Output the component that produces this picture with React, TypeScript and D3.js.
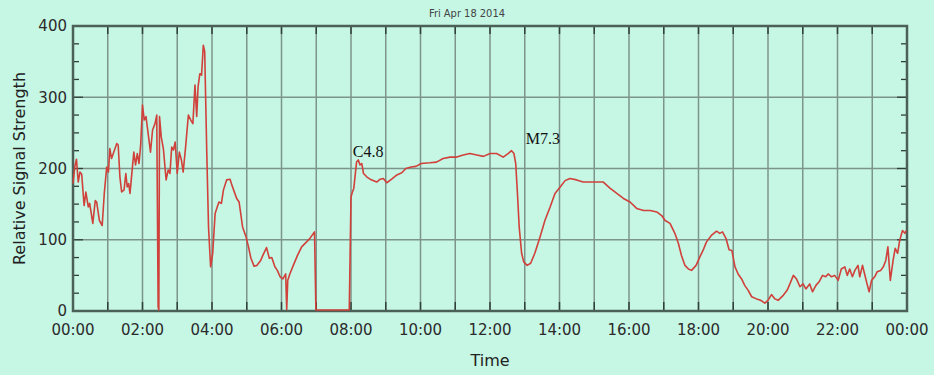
import React, { useEffect, useRef } from "react";
import * as d3 from "d3";

// hours since midnight, Fri Apr 18 2014
const hourOfDay = [
  0, 0.05, 0.1, 0.15, 0.2, 0.25, 0.32, 0.37, 0.44, 0.48, 0.57, 0.64, 0.68, 0.76, 0.84, 0.9,
  0.97, 1.02, 1.06, 1.11, 1.16, 1.26, 1.3, 1.35, 1.4, 1.47, 1.52, 1.56, 1.6, 1.64, 1.71,
  1.75, 1.8, 1.85, 1.9, 1.95, 2.0, 2.05, 2.1, 2.15, 2.23, 2.29, 2.36, 2.41, 2.45, 2.47,
  2.49, 2.54, 2.6, 2.68, 2.74, 2.79, 2.84, 2.89, 2.94, 3.0, 3.06, 3.12, 3.17, 3.24, 3.32,
  3.39, 3.45, 3.51, 3.56, 3.6, 3.65, 3.7, 3.75, 3.79, 3.85, 3.9, 3.96, 4.02, 4.09, 4.15,
  4.2, 4.27, 4.33, 4.42, 4.52, 4.57, 4.71, 4.78, 4.88, 4.98, 5.05, 5.12, 5.21, 5.29, 5.4,
  5.49, 5.57, 5.65, 5.72, 5.81, 5.88, 5.96, 6.04, 6.12, 6.15, 6.18, 6.24, 6.34, 6.46,
  6.58, 6.7, 6.82, 6.92, 6.95, 6.99, 7.95, 8.0, 8.04, 8.08, 8.16, 8.21, 8.26, 8.31, 8.36,
  8.46, 8.55, 8.6, 8.74, 8.84, 8.93, 9.03, 9.17, 9.32, 9.46, 9.58, 9.73, 9.87, 10.02,
  10.27, 10.46, 10.65, 10.85, 11.04, 11.23, 11.42, 11.62, 11.81, 12.0, 12.19, 12.38,
  12.52, 12.62, 12.69, 12.74, 12.79, 12.84, 12.91, 12.97, 13.07, 13.17, 13.29, 13.44,
  13.58, 13.73, 13.87, 14.02, 14.16, 14.3, 14.49, 14.68, 14.88, 15.07, 15.26, 15.46,
  15.65, 15.84, 16.03, 16.22, 16.42, 16.61, 16.8, 16.94, 17.04, 17.18, 17.32, 17.42,
  17.51, 17.61, 17.71, 17.8, 17.93, 18.04, 18.13, 18.23, 18.37, 18.52, 18.61, 18.69,
  18.79, 18.88, 18.96, 19.05, 19.14, 19.24, 19.33, 19.43, 19.53, 19.67, 19.79, 19.91,
  20.0, 20.1, 20.2, 20.29, 20.44, 20.55, 20.63, 20.73, 20.82, 20.92, 21.01, 21.09, 21.2,
  21.28, 21.38, 21.47, 21.57, 21.66, 21.73, 21.83, 21.92, 22.02, 22.11, 22.21, 22.28,
  22.35, 22.43, 22.5, 22.59, 22.64, 22.72, 22.78, 22.85, 22.91, 22.98, 23.07, 23.14,
  23.24, 23.32, 23.39, 23.45, 23.52, 23.6, 23.66, 23.73, 23.79, 23.87, 23.94, 23.98, 24.0,
];

const signal = [
  179, 202, 213, 181, 195, 192, 148, 167, 146, 151, 123, 155, 153, 127, 120, 165,
  202, 195, 228, 214, 221, 235, 233, 188, 167, 170, 193, 174, 179, 165, 202,
  223, 205, 221, 207, 235, 289, 268, 273, 254, 223, 254, 263, 275, 6, 0,
  273, 244, 228, 184, 198, 193, 230, 226, 237, 193, 223, 212, 195, 230, 275,
  268, 263, 317, 273, 315, 333, 331, 373, 364, 221, 118, 62, 81, 137, 146,
  153, 151, 170, 184, 185, 177, 158, 153, 118, 104, 90, 74, 63, 64, 71,
  81, 89, 74, 75, 62, 57, 48, 45, 52, 2, 43, 52, 64, 78,
  90, 96, 102, 109, 111, 0, 0, 160, 167, 172, 209, 212, 205, 207, 193,
  188, 185, 184, 181, 185, 186, 180, 185, 191, 194, 200, 202, 203, 207,
  208, 209, 214, 216, 216, 219, 221, 219, 217, 221, 221, 216,
  221, 225, 221, 207, 165, 118, 81, 69, 64, 67, 81, 104,
  127, 146, 165, 174, 183, 186, 184, 181, 181, 181, 181, 172,
  165, 158, 153, 144, 141, 141, 139, 134, 127, 123, 109, 95,
  78, 64, 59, 57, 64, 76, 85, 97, 106, 112, 109, 111,
  102, 86, 85, 62, 52, 45, 36, 29, 20, 17, 15, 11,
  15, 23, 17, 15, 22, 29, 38, 50, 45, 34, 38, 31, 38,
  27, 36, 41, 50, 48, 52, 48, 50, 43, 59, 62, 50,
  59, 48, 57, 64, 48, 64, 52, 38, 27, 43, 48, 55,
  57, 62, 71, 90, 43, 71, 88, 81, 99, 113, 109, 113,
];

const yTicks = [0, 100, 200, 300, 400];
const flares = [
  { label: "C4.8", hour: 8.05, value: 216 },
  { label: "M7.3", hour: 13.03, value: 235 },
];
const chartTitle = "Fri Apr 18 2014";

const W = 934;
const H = 375;
const M = { top: 26, right: 27, bottom: 64, left: 73 };

export default function App() {
  const ref = useRef<SVGSVGElement>(null);

  useEffect(() => {
    const svg = d3.select(ref.current);
    svg.selectAll("*").remove();

    const day0 = new Date(2014, 3, 18);
    const day1 = new Date(2014, 3, 19);
    const toDate = (h: number) => new Date(day0.getTime() + h * 3600000);

    const x = d3.scaleTime().domain([day0, day1]).range([M.left, W - M.right]);
    const y = d3.scaleLinear().domain([0, 400]).range([H - M.bottom, M.top]);

    const fmt = d3.timeFormat("%H:%M");
    const hours = d3.timeHour.every(1)!.range(day0, d3.timeMinute.offset(day1, 1));
    const labels = d3.timeHour.every(2)!.range(day0, d3.timeMinute.offset(day1, 1));
    const minorY = d3.range(0, 401, 25);

    svg.append("rect").attr("width", W).attr("height", H).attr("fill", "#c6f6e4");

    svg
      .append("text")
      .attr("x", W / 2)
      .attr("y", 17)
      .attr("text-anchor", "middle")
      .attr("font-family", "DejaVu Sans Condensed, DejaVu Sans")
      .attr("font-size", 11)
      .attr("fill", "#444")
      .text(chartTitle);

    // grid
    const grid = svg.append("g").attr("stroke", "#7d948b").attr("stroke-width", 1.5);
    grid
      .selectAll("line.v")
      .data(hours)
      .join("line")
      .attr("x1", (d) => x(d))
      .attr("x2", (d) => x(d))
      .attr("y1", y(400))
      .attr("y2", y(0));
    grid
      .selectAll("line.h")
      .data(yTicks.slice(1, -1))
      .join("line")
      .attr("x1", M.left)
      .attr("x2", W - M.right)
      .attr("y1", (d) => y(d))
      .attr("y2", (d) => y(d));

    // ticks
    const tk = svg.append("g").attr("stroke", "#2f4039").attr("stroke-width", 1.5);
    tk.selectAll("line.b")
      .data(hours)
      .join("line")
      .attr("x1", (d) => x(d))
      .attr("x2", (d) => x(d))
      .attr("y1", y(0))
      .attr("y2", y(0) - 9);
    const tk2 = svg.append("g").attr("stroke", "#2f4039").attr("stroke-width", 1.5);
    tk2.selectAll("line")
      .data(hours)
      .join("line")
      .attr("x1", (d) => x(d))
      .attr("x2", (d) => x(d))
      .attr("y1", y(400))
      .attr("y2", y(400) + 8);
    const tkY = svg.append("g").attr("stroke", "#2f4039").attr("stroke-width", 1.3);
    tkY.selectAll("line.l")
      .data(minorY)
      .join("line")
      .attr("x1", M.left)
      .attr("x2", (d) => M.left + (d % 100 === 0 ? 10 : 6))
      .attr("y1", (d) => y(d))
      .attr("y2", (d) => y(d));
    const tkY2 = svg.append("g").attr("stroke", "#2f4039").attr("stroke-width", 1.3);
    tkY2.selectAll("line")
      .data(minorY)
      .join("line")
      .attr("x1", W - M.right)
      .attr("x2", (d) => W - M.right - (d % 100 === 0 ? 10 : 6))
      .attr("y1", (d) => y(d))
      .attr("y2", (d) => y(d));

    // frame
    svg
      .append("rect")
      .attr("x", M.left)
      .attr("y", M.top)
      .attr("width", W - M.left - M.right)
      .attr("height", H - M.top - M.bottom)
      .attr("fill", "none")
      .attr("stroke", "#4b6158")
      .attr("stroke-width", 2.5);

    // data line (on top of frame so the zero stretch shows)
    const pts = hourOfDay.map((h, i) => [toDate(h), signal[i]] as [Date, number]);
    svg
      .append("path")
      .datum(pts)
      .attr("fill", "none")
      .attr("stroke", "#d0413b")
      .attr("stroke-width", 1.6)
      .attr("stroke-linejoin", "round")
      .attr(
        "d",
        d3
          .line<[Date, number]>()
          .x((d) => x(d[0]))
          .y((d) => Math.min(y(d[1]), y(0) - 1))
      );

    // tick labels
    svg
      .append("g")
      .selectAll("text")
      .data(labels)
      .join("text")
      .attr("x", (d) => x(d))
      .attr("y", 335)
      .attr("text-anchor", "middle")
      .attr("font-family", "DejaVu Sans")
      .attr("font-size", 15)
      .attr("fill", "#2b2b2b")
      .text((d) => fmt(d));
    svg
      .append("g")
      .selectAll("text")
      .data(yTicks)
      .join("text")
      .attr("x", M.left - 6)
      .attr("y", (d) => y(d))
      .attr("dy", "0.35em")
      .attr("text-anchor", "end")
      .attr("font-family", "DejaVu Sans")
      .attr("font-size", 15)
      .attr("fill", "#2b2b2b")
      .text((d) => d);

    // axis titles
    svg
      .append("text")
      .attr("x", (M.left + W - M.right) / 2)
      .attr("y", 366)
      .attr("text-anchor", "middle")
      .attr("font-family", "DejaVu Sans")
      .attr("font-size", 16)
      .attr("fill", "#222")
      .text("Time");
    svg
      .append("text")
      .attr("transform", `translate(25,${(M.top + H - M.bottom) / 2}) rotate(-90)`)
      .attr("text-anchor", "middle")
      .attr("font-family", "DejaVu Sans")
      .attr("font-size", 16)
      .attr("fill", "#222")
      .text("Relative Signal Strength");

    // flare annotations
    svg
      .append("g")
      .selectAll("text")
      .data(flares)
      .join("text")
      .attr("x", (d) => x(toDate(d.hour)))
      .attr("y", (d) => y(d.value))
      .attr("font-family", "Liberation Serif, serif")
      .attr("font-size", 16)
      .attr("fill", "#111")
      .text((d) => d.label);
  }, []);

  return (
    <div style={{ position: "fixed", left: 0, top: 0 }}>
      <svg ref={ref} width={W} height={H} style={{ display: "block" }} />
    </div>
  );
}
